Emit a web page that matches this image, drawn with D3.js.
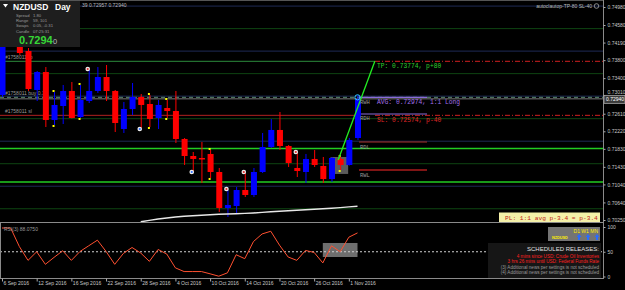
<!DOCTYPE html>
<html>
<head>
<meta charset="utf-8">
<script src="https://cdn.jsdelivr.net/npm/d3@7"></script>
<style>
    html, body {margin: 0; padding: 0; background: #000;}
    svg {display: block;}
    text {font-family: "Liberation Sans", Arial, sans-serif;}
    .mono {font-family: "Liberation Mono", "DejaVu Sans Mono", monospace;}
</style>
</head>
<body>
<svg id="chart" width="625" height="290"></svg>
<script>
// data
const dates = ["6 Sep", "7 Sep", "8 Sep", "9 Sep", "12 Sep", "13 Sep", "14 Sep", "15 Sep", "16 Sep",
    "19 Sep", "20 Sep", "21 Sep", "22 Sep", "23 Sep", "26 Sep", "27 Sep", "28 Sep", "29 Sep", "30 Sep",
    "3 Oct", "4 Oct", "5 Oct", "6 Oct", "7 Oct", "10 Oct", "11 Oct", "12 Oct", "13 Oct", "14 Oct",
    "17 Oct", "18 Oct", "19 Oct", "20 Oct", "21 Oct", "24 Oct", "25 Oct", "26 Oct", "27 Oct", "28 Oct",
    "31 Oct", "1 Nov", "2 Nov"];
const opens = [0.73026, 0.74291, 0.74358, 0.74003, 0.73137, 0.73536, 0.72471, 0.72781, 0.73115,
    0.72537, 0.72892, 0.73115, 0.73425, 0.73115, 0.72271, 0.72715, 0.72981, 0.72826, 0.72515,
    0.72737, 0.72670, 0.72049, 0.71671, 0.71627, 0.71716, 0.71316, 0.70517, 0.70561, 0.70916,
    0.70805, 0.71316, 0.71871, 0.72249, 0.71893, 0.71405, 0.71316, 0.71605, 0.71449, 0.71160,
    0.71605, 0.71471, 0.72071];
const highs = [0.74247, 0.74580, 0.74469, 0.74069, 0.73559, 0.73647, 0.73092, 0.73248, 0.73314,
    0.73248, 0.73581, 0.73647, 0.73692, 0.73137, 0.72870, 0.73292, 0.73048, 0.73026, 0.72915,
    0.72915, 0.73115, 0.72071, 0.71760, 0.71982, 0.71804, 0.71405, 0.70916, 0.70983, 0.71294,
    0.71405, 0.72182, 0.72493, 0.72648, 0.71915, 0.71738, 0.71716, 0.71804, 0.71649, 0.71649,
    0.71649, 0.72071, 0.73026];
const lows = [0.72981, 0.74158, 0.73914, 0.73115, 0.72892, 0.72315, 0.72360, 0.72382, 0.72505,
    0.72515, 0.72848, 0.73070, 0.72892, 0.72204, 0.72182, 0.72582, 0.72293, 0.72315, 0.72271,
    0.72515, 0.71960, 0.71471, 0.71338, 0.71072, 0.71183, 0.70428, 0.70317, 0.70406, 0.70761,
    0.70761, 0.71294, 0.71849, 0.71804, 0.71427, 0.71205, 0.71072, 0.71427, 0.71072, 0.71094,
    0.71360, 0.71460, 0.72027];
const closes = [0.74158, 0.74469, 0.73958, 0.73159, 0.73536, 0.72471, 0.72804, 0.73115, 0.72515,
    0.72915, 0.73115, 0.73425, 0.73115, 0.72404, 0.72715, 0.72981, 0.72804, 0.72493, 0.72804,
    0.72670, 0.72049, 0.71671, 0.71605, 0.71594, 0.71316, 0.70517, 0.70583, 0.70916, 0.70805,
    0.71316, 0.71871, 0.72249, 0.71893, 0.71516, 0.71338, 0.71605, 0.71471, 0.71160, 0.71627,
    0.71471, 0.72027, 0.72940];
const rsiValues = [98, 98, 60.6, 32.6, 50, 24.6, 38.6, 52, 32.6,
    50.6, 62, 73.4, 50.6, 24.6, 46.6, 58.6, 47.4, 30.6, 54.6,
    45.4, 17.4, 10, 10, 10, 5.4, 0.6, 7.4, 44, 36,
    70.6, 86, 91.4, 63.4, 39.4, 32.6, 52.6, 48.6, 27.4, 62,
    50, 79.4, 88.08];
const maDates = dates.slice(16);
const maValues = [0.70210, 0.70243, 0.70272, 0.70294, 0.70317, 0.70332, 0.70346, 0.70357, 0.70368,
    0.70377, 0.70383, 0.70390, 0.70397, 0.70406, 0.70419, 0.70432, 0.70445, 0.70457, 0.70468,
    0.70477, 0.70488, 0.70499, 0.70512, 0.70525, 0.70541, 0.70556];
const fractalDates = ["14 Sep", "19 Sep", "29 Sep", "3 Oct", "10 Oct", "31 Oct"];
const markHighDates = ["20 Sep", "12 Oct", "14 Oct", "24 Oct"];
const markLowDates = ["28 Sep", "6 Oct"];
const priceTicks = [0.74980, 0.74580, 0.74190, 0.73800, 0.73400, 0.73010, 0.72610, 0.72220,
    0.71830, 0.71430, 0.71040, 0.70640, 0.70250];
const dateTicks = ["6 Sep", "12 Sep", "16 Sep", "22 Sep", "28 Sep", "4 Oct", "10 Oct", "14 Oct",
    "20 Oct", "26 Oct", "1 Nov"];
const rsiTicks = [0, 50, 100];
const roundLevels = [0.75, 0.74, 0.73, 0.72, 0.71];
const halfLevels = [0.745, 0.735, 0.725, 0.715, 0.705];
const keyLevels = [0.71838, 0.71094];
const tpPrice = 0.73774, entryPrice = 0.72974, slPrice = 0.72574, bidPrice = 0.72940;
const rangeLevels = [["RWH", 0.72974, "#8a6ad8"], ["RDH", 0.72604, "#8a6ad8"],
    ["RDL", 0.71982, "#a83028"], ["RWL", 0.71360, "#ff2a2a"]];
const newsLines = [
    ["4 mins since USD: Crude Oil Inventories", "#ff2020"],
    ["3 hrs 26 mins until USD: Federal Funds Rate", "#ff2020"],
    ["(3) Additional news per settings is not scheduled", "#9a9a9a"],
    ["(4) Additional news per settings is not scheduled", "#9a9a9a"]
];
const infoRows = [["Spread", "1.80"], ["Range", "59, 101"], ["Swaps", "0.05, -0.31"], ["Candle", "07:25:31"]];

// layout
const axisX = 603;
const svg = d3.select('#chart');
svg.append('rect').attr('width', 625).attr('height', 290).attr('fill', '#000');

const x = d3.scalePoint().domain(dates).range([2, 357.5]);
const step = x.step();
const y = d3.scaleLinear().domain([0.70250, 0.74580]).range([220, 25]);
const yRsi = d3.scaleLinear().domain([0, 100]).range([276.5, 227]);

const defs = svg.append('defs');
defs.append('clipPath').attr('id', 'clipMain').append('rect')
    .attr('x', 0).attr('y', 0).attr('width', axisX).attr('height', 222);
defs.append('clipPath').attr('id', 'clipRsi').append('rect')
    .attr('x', 0).attr('y', 223).attr('width', axisX).attr('height', 55);

const main = svg.append('g').attr('clip-path', 'url(#clipMain)');

function hline(g, price, color, w, dash, x0 = 0, x1 = axisX) {
    g.append('line').attr('x1', x0).attr('x2', x1)
        .attr('y1', y(price)).attr('y2', y(price))
        .attr('stroke', color).attr('stroke-width', w)
        .attr('stroke-dasharray', dash || null);
}

// level lines
halfLevels.forEach(p => hline(main, p, '#0e4412', 1));
roundLevels.forEach(p => hline(main, p, '#1e2a55', 1));
keyLevels.forEach(p => hline(main, p, '#22cc22', 1.6));
hline(main, tpPrice, '#2c8c3c', 1, null, 0, 375);
hline(main, tpPrice, '#d02020', 1, '5,2,1,2', 375);
hline(main, slPrice, '#b02020', 1, null, 0, 360);
hline(main, slPrice, '#d02020', 1, '5,2,1,2', 375);
hline(main, entryPrice, '#5c8c70', 1, '4,3');
hline(main, bidPrice, '#777', 1);
rangeLevels.forEach(([name, p, c]) => hline(main, p, c, 1.2, null, 359, 427));

// order labels on the left
[["#1758011 tp", tpPrice], ["#1758011 buy 0.31", entryPrice], ["#1758011 sl", slPrice]].forEach(([t, p]) => {
    main.append('text').attr('x', 5).attr('y', y(p) - 2).attr('font-size', 5)
        .attr('fill', '#9a9a9a').text(t);
});

// gray box behind last candles
main.append('rect')
    .attr('x', x('28 Oct') - 1).attr('width', x('31 Oct') - x('28 Oct') + 9)
    .attr('y', y(0.71649)).attr('height', y(0.71272) - y(0.71649))
    .attr('fill', '#5a5a5a');

// candles
const candles = dates.map((d, i) => ({d, o: opens[i], h: highs[i], l: lows[i], c: closes[i]}));
const cg = main.append('g');
cg.selectAll('line').data(candles).join('line')
    .attr('x1', d => x(d.d) + 0.5).attr('x2', d => x(d.d) + 0.5)
    .attr('y1', d => y(d.h)).attr('y2', d => y(d.l))
    .attr('stroke', d => d.c >= d.o ? '#0000ff' : '#ff0000').attr('stroke-width', 1);
cg.selectAll('rect').data(candles).join('rect')
    .attr('x', d => x(d.d) - 2.5).attr('width', 6)
    .attr('y', d => y(Math.max(d.o, d.c)))
    .attr('height', d => Math.max(1.2, Math.abs(y(d.o) - y(d.c))))
    .attr('fill', d => d.c >= d.o ? '#0000ff' : '#ff0000');

// moving average
main.append('path')
    .datum(maDates.map((d, i) => [x(d), y(maValues[i])]))
    .attr('d', d3.line())
    .attr('fill', 'none').attr('stroke', '#e8e8e8').attr('stroke-width', 1.4);

// fractal dots and trade marks
const byDate = new Map(candles.map(c => [c.d, c]));
fractalDates.forEach(d => {
    const c = byDate.get(d);
    [y(c.h) - 1, y(c.l) + 1].forEach(yy => main.append('rect')
        .attr('x', x(d) - 1.5).attr('y', yy - 1).attr('width', 2).attr('height', 2).attr('fill', '#ffff00'));
});
markHighDates.forEach(d => {
    const cy = y(byDate.get(d).h) - 1;
    main.append('circle').attr('cx', x(d) - 1).attr('cy', cy).attr('r', 2.3).attr('fill', '#eee');
    main.append('circle').attr('cx', x(d) - 1).attr('cy', cy).attr('r', 1.1).attr('fill', '#e03030');
});
markLowDates.forEach(d => {
    const cy = y(byDate.get(d).l) + 1;
    main.append('circle').attr('cx', x(d) - 1).attr('cy', cy).attr('r', 2.3).attr('fill', '#eee');
    main.append('circle').attr('cx', x(d) - 1).attr('cy', cy).attr('r', 1.1).attr('fill', '#3070ff');
});

// trade projection line
main.append('line')
    .attr('x1', x('31 Oct') - 2).attr('y1', y(0.71582))
    .attr('x2', x('2 Nov') + 2 * step).attr('y2', y(tpPrice))
    .attr('stroke', '#22ee22').attr('stroke-width', 1.3);
main.append('circle').attr('cx', x('2 Nov')).attr('cy', y(entryPrice)).attr('r', 2.6)
    .attr('fill', 'none').attr('stroke', '#30c8ff').attr('stroke-width', 1);

// range labels and trade texts
rangeLevels.forEach(([name, p]) => {
    main.append('text').attr('class', 'mono').attr('x', 360).attr('y', y(p) + 6.5)
        .attr('font-size', 5.5).attr('fill', '#9a9a9a').text(name);
});
[["TP: 0.73774, p+80", tpPrice, '#2ed02e'], ["AVG: 0.72974, 1:1 Long", entryPrice, '#a070e8'],
    ["SL: 0.72574, p-40", slPrice, '#e02828']].forEach(([t, p, c]) => {
    main.append('text').attr('class', 'mono').attr('x', 377).attr('y', y(p) + 7)
        .attr('font-size', 6.3).attr('fill', c).text(t);
});

// top texts
main.append('text').attr('x', 82).attr('y', 7).attr('font-size', 5).attr('fill', '#bbb')
    .text('39 0.72957 0.72940');
main.append('text').attr('x', 592).attr('y', 8).attr('font-size', 5).attr('fill', '#bbb')
    .attr('text-anchor', 'end').text('autoclautop-TP-80 SL-40');
main.append('circle').attr('cx', 596.5).attr('cy', 6).attr('r', 2.3)
    .attr('fill', 'none').attr('stroke', '#aaa').attr('stroke-width', 0.8);

// PL box
svg.append('rect').attr('x', 499).attr('y', 212.5).attr('width', 101).attr('height', 10)
    .attr('fill', '#f4f0a8');
svg.append('text').attr('class', 'mono').attr('x', 505).attr('y', 220).attr('font-size', 6.2)
    .attr('fill', '#c01818').text('PL: 1:1 avg p-3.4 = p-3.4');

// info panel
const info = svg.append('g');
info.append('rect').attr('x', 0).attr('y', 0).attr('width', 80).attr('height', 47).attr('fill', '#1e1e1e');
info.append('path').attr('d', 'M3,4 L8,4 L5.5,7.5 Z').attr('fill', '#fff');
info.append('text').attr('x', 13).attr('y', 10).attr('font-size', 8.5).attr('font-weight', 'bold')
    .attr('fill', '#fff').text('NZDUSD');
info.append('text').attr('x', 55).attr('y', 10).attr('font-size', 8.5).attr('font-weight', 'bold')
    .attr('fill', '#fff').text('Day');
infoRows.forEach(([k, v], i) => {
    info.append('text').attr('x', 16).attr('y', 16.5 + i * 5.4).attr('font-size', 4.2).attr('fill', '#9a9a9a').text(k);
    info.append('text').attr('x', 33).attr('y', 16.5 + i * 5.4).attr('font-size', 4.2).attr('fill', '#9a9a9a').text(v);
});
info.append('text').attr('x', 19).attr('y', 44).attr('font-size', 11).attr('font-weight', 'bold')
    .attr('fill', '#36d636').text('0.7294');
info.append('text').attr('x', 53).attr('y', 44).attr('font-size', 7.5).attr('fill', '#bbb').text('0');

// RSI panel
const rsiG = svg.append('g').attr('clip-path', 'url(#clipRsi)');
rsiG.append('rect')
    .attr('x', x('27 Oct')).attr('width', x('2 Nov') - x('27 Oct'))
    .attr('y', yRsi(67.7)).attr('height', yRsi(39.4) - yRsi(67.7))
    .attr('fill', '#6e6e6e');
rsiG.append('line').attr('x1', 0).attr('x2', axisX).attr('y1', yRsi(50)).attr('y2', yRsi(50))
    .attr('stroke', '#d0d0d0').attr('stroke-width', 1).attr('stroke-dasharray', '2,2');
rsiG.append('path')
    .datum(rsiValues)
    .attr('d', d3.line().x((d, i) => x(dates[i])).y(d => yRsi(d)))
    .attr('fill', 'none').attr('stroke', '#ff5030').attr('stroke-width', 1);
rsiG.append('text').attr('x', 4).attr('y', 231).attr('font-size', 5).attr('fill', '#9a9a9a').text('RSI(3) 88.0750');

// news box
svg.append('rect').attr('x', 488).attr('y', 243).attr('width', 113).attr('height', 35).attr('fill', '#161616');
svg.append('text').attr('x', 599).attr('y', 251).attr('text-anchor', 'end').attr('font-size', 6)
    .attr('fill', '#e0e0e0').text('SCHEDULED RELEASES:');
newsLines.forEach(([t, c], i) => {
    svg.append('text').attr('x', 599).attr('y', 257.5 + i * 5.6).attr('text-anchor', 'end')
        .attr('font-size', 4.6).attr('fill', c).text(t);
});
svg.append('rect').attr('x', 548).attr('y', 227).attr('width', 52).attr('height', 14).attr('fill', '#747474');
svg.append('text').attr('x', 598).attr('y', 233).attr('text-anchor', 'end').attr('font-size', 5)
    .attr('fill', '#ffee00').text('D1  W1  MN');
svg.append('text').attr('x', 552).attr('y', 239).attr('font-size', 3.8).attr('font-weight', 'bold')
    .attr('fill', '#ffee00').text('NZDUSD');
[579, 588, 597].forEach(ax => svg.append('path')
    .attr('d', `M${ax - 2.5},237 L${ax},234 L${ax + 2.5},237 L${ax + 1},237 L${ax + 1},240 L${ax - 1},240 L${ax - 1},237 Z`)
    .attr('fill', '#2a6cff'));

// frame
const frame = svg.append('g').attr('stroke', '#8a8a8a').attr('stroke-width', 1);
frame.append('line').attr('x1', axisX + 0.5).attr('x2', axisX + 0.5).attr('y1', 0).attr('y2', 279);
frame.append('line').attr('x1', 0).attr('x2', axisX).attr('y1', 222.5).attr('y2', 222.5);
frame.append('line').attr('x1', 0).attr('x2', axisX).attr('y1', 278.5).attr('y2', 278.5);
frame.append('line').attr('x1', 0.5).attr('x2', 0.5).attr('y1', 223).attr('y2', 278);
frame.append('line').attr('x1', 0).attr('x2', axisX).attr('y1', 0.5).attr('y2', 0.5).attr('stroke', '#555');

// price axis
const priceAxis = svg.append('g').attr('transform', `translate(${axisX + 0.5},0)`)
    .call(d3.axisRight(y).tickValues(priceTicks).tickFormat(d3.format('.5f')).tickSize(2).tickPadding(2));
priceAxis.select('.domain').remove();
priceAxis.selectAll('line').attr('stroke', '#aaa');
priceAxis.selectAll('text').attr('font-size', 5).attr('fill', '#c8c8c8').attr('font-family', null);
// the bid tag hides the 0.73010 label, as on the platform
priceAxis.selectAll('.tick').filter(d => Math.abs(y(d) - y(bidPrice)) < 6).select('text').attr('dy', '-0.45em');

// bid tag
svg.append('rect').attr('x', axisX + 1).attr('y', y(bidPrice) - 3.5).attr('width', 21).attr('height', 8)
    .attr('fill', '#3a3a3a').attr('stroke', '#aaa').attr('stroke-width', 0.8);
svg.append('text').attr('x', axisX + 3).attr('y', y(bidPrice) + 2.5).attr('font-size', 5)
    .attr('fill', '#fff').text(d3.format('.5f')(bidPrice));

// rsi axis
const rsiAxis = svg.append('g').attr('transform', `translate(${axisX + 0.5},0)`)
    .call(d3.axisRight(yRsi).tickValues(rsiTicks).tickSize(2).tickPadding(2));
rsiAxis.select('.domain').remove();
rsiAxis.selectAll('line').attr('stroke', '#aaa');
rsiAxis.selectAll('text').attr('font-size', 5).attr('fill', '#c8c8c8').attr('font-family', null);

// date axis
const dateAxis = svg.append('g').attr('transform', 'translate(0,278.5)')
    .call(d3.axisBottom(x).tickValues(dateTicks).tickSize(3).tickFormat(d => d + ' 2016'));
dateAxis.select('.domain').remove();
dateAxis.selectAll('line').attr('stroke', '#aaa');
dateAxis.selectAll('text').attr('font-size', 5).attr('fill', '#c8c8c8').attr('font-family', null)
    .attr('text-anchor', 'start').attr('x', 1).attr('y', 3).attr('dy', '0.71em');
</script>
</body>
</html>
